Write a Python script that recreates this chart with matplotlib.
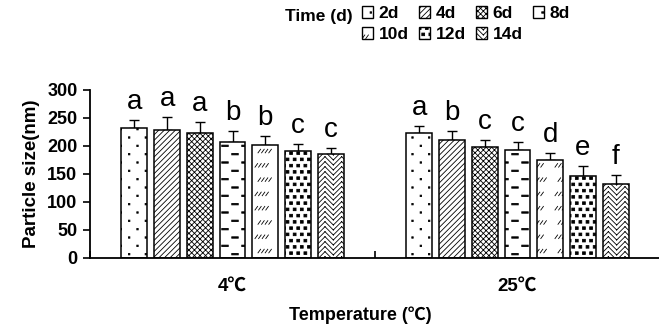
import warnings
import numpy as np
import matplotlib
matplotlib.use("Agg")
import matplotlib.pyplot as plt
import matplotlib.hatch as mhatch
from matplotlib.patches import Patch
from matplotlib.path import Path

warnings.filterwarnings("ignore")

# data
temps = ["4℃", "25℃"]
days = ["2d", "4d", "6d", "8d", "10d", "12d", "14d"]
size_4 = [232, 229, 224, 207, 201, 191, 186]
err_4 = [14, 22, 18, 20, 16, 12, 10]
size_25 = [224, 211, 198, 193, 175, 147, 133]
err_25 = [12, 16, 13, 14, 12, 17, 15]
letters_4 = ["a", "a", "a", "b", "b", "c", "c"]
letters_25 = ["a", "b", "c", "c", "d", "e", "f"]


# --- extra hatch patterns (tile = 1 inch = 100 px at dpi 100) ---
def _rect(cx, cy, w, h):
    v = [(cx - w / 2, cy - h / 2), (cx + w / 2, cy - h / 2),
         (cx + w / 2, cy + h / 2), (cx - w / 2, cy + h / 2), (0, 0)]
    c = [Path.MOVETO, Path.LINETO, Path.LINETO, Path.LINETO, Path.CLOSEPOLY]
    return v, c


def _seg(x0, y0, x1, y1):
    return [(x0, y0), (x1, y1)], [Path.MOVETO, Path.LINETO]


def sparse_dots():
    out = []
    for i in range(12):
        y = (i + 0.5) * 100 / 12
        for j in range(-1, 7):
            x = (j + (0.25 if i % 2 == 0 else 0.75)) * 100 / 6
            out.append(_rect(x, y, 1.4, 1.4))
    return out


def dashes():
    out = []
    for i in range(12):
        y = (i + 0.5) * 100 / 12
        for j in range(-1, 6):
            x = (j + (0.25 if i % 2 == 0 else 0.75)) * 100 / 5
            out.append(_rect(x, y, 6.5, 1.4))
    return out


def short_slashes():
    out = []
    for i in range(-1, 8):
        y = (i + 0.3) * 100 / 7
        shift = 0 if i % 2 == 0 else 3
        for j in range(-1, 5):
            x0 = j * 25 + 5 + shift
            for k in range(4):
                xs = x0 + k * 3.6
                out.append(_seg(xs, y, xs + 2.6, y + 3.6))
    return out


def filled_squares():
    out = []
    for i in range(16):
        y = (i + 0.5) * 100 / 16
        for j in range(-1, 15):
            x = (j + (0.25 if i % 2 == 0 else 0.75)) * 100 / 14
            out.append(_rect(x, y, 2.8, 2.6))
    return out


def herringbone():
    out = []
    w = 100 / 12
    step = 100 / 20
    for col in range(12):
        x0 = col * w
        for k in range(-3, 22):
            y0 = k * step
            if col % 2 == 0:
                out.append(_seg(x0, y0, x0 + w, y0 + w))
            else:
                out.append(_seg(x0, y0 + w, x0 + w, y0))
    return out


_custom = {"D": sparse_dots, "H": dashes, "S": short_slashes,
           "Q": filled_squares, "Z": herringbone}


def _make_hatch_class(ch, builder):
    class _Custom(mhatch.HatchPatternBase):
        def __init__(self, hatch, density):
            self.parts = builder() if ch in hatch else []
            self.num_vertices = sum(len(v) for v, _ in self.parts)

        def set_vertices_and_codes(self, vertices, codes):
            n = 0
            for v, c in self.parts:
                vertices[n:n + len(v)] = np.array(v) / 100.0
                codes[n:n + len(c)] = c
                n += len(v)
    return _Custom


for ch, fn in _custom.items():
    mhatch._hatch_types.append(_make_hatch_class(ch, fn))

hatches = ["D", "//////", "xxxxxx", "H", "S", "Q", "Z"]

plt.rcParams["font.family"] = ["Liberation Sans", "Noto Sans CJK SC", "DejaVu Sans"]
plt.rcParams["hatch.linewidth"] = 0.6

fig = plt.figure(figsize=(6.59, 3.29), dpi=100)
ax = fig.add_axes([90 / 659, 1 - 258 / 329, 570 / 659, 168 / 329])

x = np.arange(len(temps))
pitch = 0.1147
bw = 0.091
series = list(zip(size_4, size_25))
errs = list(zip(err_4, err_25))
labels = list(zip(letters_4, letters_25))

for i, day in enumerate(days):
    pos = x + (i - 3) * pitch
    vals = np.array(series[i])
    e = np.array(errs[i])
    ax.bar(pos, vals, bw, facecolor="white", edgecolor="black",
           linewidth=1.1, hatch=hatches[i], zorder=2)
    ax.errorbar(pos, vals, yerr=[np.zeros_like(e), e], fmt="none",
                ecolor="black", elinewidth=1.0, capsize=3.5, capthick=1.0,
                zorder=1)
    for p, v, ee, lab in zip(pos, vals, e, labels[i]):
        ax.text(p, v + ee + 20, lab, ha="center", va="baseline",
                fontsize=20, family="Liberation Sans")

ax.set_xlim(-0.5, 1.5)
ax.set_ylim(0, 300)
ax.set_yticks(range(0, 301, 50))
ax.set_xticks(x)
ax.set_xticklabels(temps, fontsize=13.5, fontweight="bold")
ax.set_xticks([-0.5, 0.5, 1.5], minor=True)
ax.tick_params(axis="x", which="major", length=0, pad=14)
ax.tick_params(axis="x", which="minor", direction="in", length=5, width=1.2)
ax.tick_params(axis="y", direction="out", length=5, width=1.2, labelsize=13, pad=4)
for t in ax.get_yticklabels():
    t.set_fontweight("bold")
for s in ["top", "right"]:
    ax.spines[s].set_visible(False)
ax.spines["left"].set_linewidth(1.3)
ax.spines["bottom"].set_linewidth(1.3)

ax.set_ylabel("Particle size(nm)", fontsize=13.5, fontweight="bold", labelpad=5)
fig.text(360 / 659, 1 - 315 / 329, "Temperature (℃)", ha="center", va="center",
         fontsize=13, fontweight="bold")

# legend, reordered so it fills row by row
handles = [Patch(facecolor="white", edgecolor="black", linewidth=1.0, hatch=h)
           for h in hatches]
order = [0, 4, 1, 5, 2, 6, 3]
fig.text(285 / 659, 1 - 16 / 329, "Time (d)", ha="left", va="center",
         fontsize=12.5, fontweight="bold")
fig.legend([handles[k] for k in order], [days[k] for k in order],
           loc="upper left", bbox_to_anchor=(362 / 659, 1 - 6 / 329),
           ncol=4, frameon=False, borderpad=0, borderaxespad=0,
           handlelength=0.65, handleheight=0.65, handletextpad=0.3,
           columnspacing=0.6, labelspacing=0.35,
           prop={"size": 12.5, "weight": "bold"})

fig.savefig("out.png", dpi=100)
